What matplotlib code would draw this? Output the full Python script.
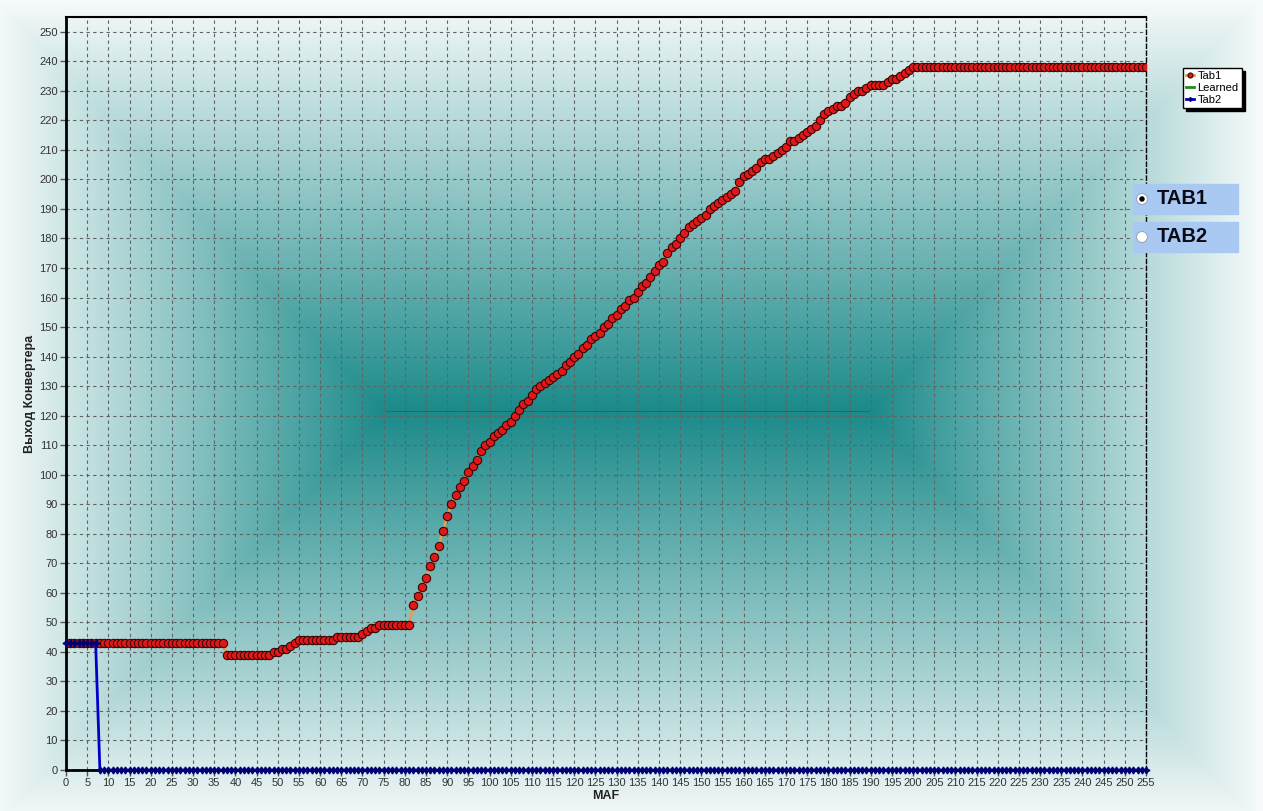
import numpy as np
import matplotlib
matplotlib.use('Agg')
import matplotlib.pyplot as plt
from matplotlib.patches import Rectangle, Ellipse

plt.rcParams['font.family'] = ['Liberation Sans', 'DejaVu Sans']

# данные
maf = list(range(256))

tab1 = ([43] * 38 + [39] * 11 +
        [40, 40, 41, 41, 42, 43, 44] +
        [44] * 8 + [45] * 6 +
        [46, 47, 48, 48, 49] + [49] * 7 +
        [56, 59, 62, 65, 69, 72, 76, 81, 86, 90,
         93, 96, 98, 101, 103, 105, 108, 110, 111, 113,
         114, 115, 117, 118, 120, 122, 124, 125, 127, 129,
         130, 131, 132, 133, 134, 135, 137, 138, 140, 141,
         143, 144, 146, 147, 148, 150, 151, 153, 154, 156,
         157, 159, 160, 162, 164, 165, 167, 169, 171, 172,
         175, 177, 178, 180, 182, 184, 185, 186, 187, 188,
         190, 191, 192, 193, 194, 195, 196, 199, 201, 202,
         203, 204, 206, 207, 207, 208, 209, 210, 211, 213,
         213, 214, 215, 216, 217, 218, 220, 222, 223, 224,
         225, 225, 226, 228, 229, 230, 230, 231, 232, 232,
         232, 232, 233, 234, 234, 235, 236, 237, 238] +
        [238] * 55)

tab2 = [43] * 8 + [0] * 248

learned_x = []
learned_y = []

x_ticks = list(range(0, 256, 5))
y_ticks = list(range(0, 251, 10))


def background(w, h):
    # path-gradient в стиле WinForms: центр - горизонтальная линия
    yy, xx = np.mgrid[0:h, 0:w].astype(float)
    cx, cy = w / 2 - 4, 411
    hw, hh = w / 2, 411
    sx = 0.384
    t = np.maximum((np.abs(xx - cx) / hw - sx) / (1 - sx), np.abs(yy - cy) / hh)
    t = np.clip(t, 0, 1)
    c0 = np.array([28, 138, 138]) / 255
    c1 = np.array([246, 250, 250]) / 255
    img = c0[None, None, :] * (1 - t[..., None]) + c1[None, None, :] * t[..., None]
    line = (np.abs(yy - cy) < 1.0) & (np.abs(xx - cx) / hw < sx)
    img[line] = np.array([15, 115, 115]) / 255
    return img


def main():
    W, H = 1263, 811
    fig = plt.figure(figsize=(W / 100, H / 100), dpi=100)

    bg = fig.add_axes([0, 0, 1, 1], zorder=-5)
    bg.imshow(background(W, H), aspect='auto', interpolation='bilinear')
    bg.axis('off')

    ax = fig.add_axes([66 / W, 1 - 770 / H, 1080 / W, 753 / H])
    ax.set_facecolor('none')

    ax.plot(maf, tab1, color='#E0A050', lw=2, marker='o', ms=6,
            mfc='#E01818', mec='#3A0505', mew=0.8, label='Tab1', zorder=3)
    ax.plot(learned_x, learned_y, color='#1E8C1E', lw=2, label='Learned')
    ax.plot(maf, tab2, color='#0000C8', lw=2, marker=(4, 1, 0), ms=5,
            mfc='#000070', mec='#000070', label='Tab2', zorder=4, clip_on=False)

    ax.set_xlim(0, 255)
    ax.set_ylim(0, 255)
    ax.set_xticks(x_ticks)
    ax.set_yticks(y_ticks)
    ax.tick_params(labelsize=8, colors='#555555', labelcolor='#333333',
                   length=4, width=1, pad=2)
    ax.grid(True, color='#5E6464', linestyle=(0, (3, 3)), lw=0.8)

    for side in ['left', 'bottom']:
        ax.spines[side].set_linewidth(2)
        ax.spines[side].set_color('black')
    ax.spines['top'].set_linewidth(1.5)
    ax.spines['right'].set_linewidth(1)
    ax.spines['right'].set_linestyle((0, (3, 2)))

    ax.set_xlabel('MAF', fontsize=9, fontweight='bold', color='#222222', labelpad=1)
    ax.set_ylabel('Выход Конвертера', fontsize=9, fontweight='bold',
                  color='#222222', labelpad=2)

    leg = fig.legend(loc='upper left', bbox_to_anchor=(1183 / W, 1 - 68 / H),
                     fontsize=8, frameon=True, fancybox=False,
                     shadow={'color': 'black', 'alpha': 1},
                     handlelength=0.7, handletextpad=0.3, borderpad=0.3,
                     labelspacing=0.15, borderaxespad=0, markerscale=0.6)
    leg.get_frame().set_edgecolor('black')
    leg.get_frame().set_linewidth(1)
    leg.get_frame().set_facecolor('white')

    # переключатели TAB1 / TAB2
    for i, name in enumerate(['TAB1', 'TAB2']):
        top = 184 + i * 38
        cxy = (1142 / W, 1 - (top + 15) / H)
        fig.patches.append(Rectangle((1133 / W, 1 - (top + 30) / H), 105 / W, 30 / H,
                                     transform=fig.transFigure, color='#A9C9F2',
                                     zorder=5))
        fig.patches.append(Ellipse(cxy, 11 / W, 11 / H,
                                   transform=fig.transFigure, facecolor='white',
                                   edgecolor='#9AA8B8', lw=0.8, zorder=6))
        if i == 0:
            fig.patches.append(Ellipse(cxy, 4 / W, 4 / H,
                                       transform=fig.transFigure, color='black',
                                       zorder=7))
        fig.text(1157 / W, 1 - (top + 15) / H, name, fontsize=14.5,
                 fontweight='bold', color='#0A0A14', va='center', zorder=7)

    fig.savefig('out.png', dpi=100)


if __name__ == '__main__':
    assert len(tab1) == 256
    main()
